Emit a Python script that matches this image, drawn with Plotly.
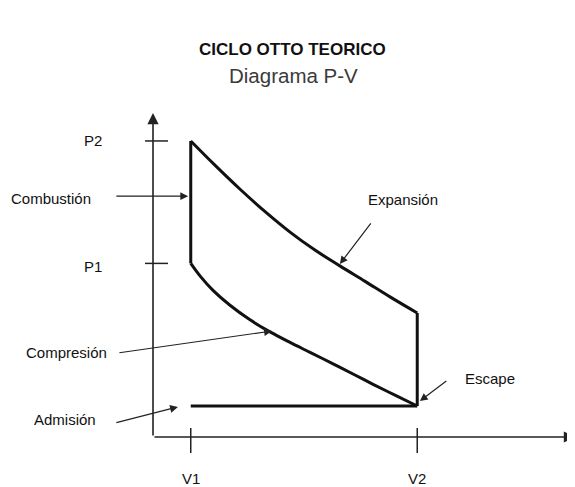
import plotly.graph_objects as go

# Otto cycle, P-V diagram (V1 = 1, V2 = 7, atmospheric pressure = 1)
V1, V2 = 1.0, 7.0
P_ATM = 1.0
P1, P2 = 5.6, 9.55

# compression, from V2 back to V1
V_COMP = [7.0, 6.41, 5.83, 5.35, 4.77, 4.16, 3.63, 3.10, 2.57, 2.04, 1.59, 1.25, 1.0]
P_COMP = [1.0, 1.35, 1.70, 2.0, 2.36, 2.73, 3.05, 3.39, 3.78, 4.25, 4.73, 5.19, 5.6]

# expansion, from V1 to V2
V_EXP = [1.0, 1.64, 2.30, 2.97, 3.63, 4.29, 4.95, 5.62, 6.28, 7.0]
P_EXP = [9.55, 8.77, 8.0, 7.27, 6.61, 6.03, 5.52, 5.02, 4.52, 4.0]

V_TICKS = [V1, V2]
V_LABELS = ["V1", "V2"]
P_TICKS = [P1, P2]
P_LABELS = ["P1", "P2"]

FONT = "Liberation Sans, Arial, sans-serif"
INK = "#111111"
AXIS = "#222222"

fig = go.Figure()
# straight strokes: admision, combustion, escape
fig.add_trace(go.Scatter(x=[V1, V2, None, V1, V1, None, V2, V2],
                         y=[P_ATM, P_ATM, None, P1, P2, None, P_EXP[-1], P_ATM],
                         mode="lines", line=dict(color=INK, width=3), hoverinfo="skip"))
# curved strokes: compresion, expansion
fig.add_trace(go.Scatter(x=V_COMP, y=P_COMP, mode="lines",
                         line=dict(color=INK, width=3, shape="spline", smoothing=1),
                         hoverinfo="skip"))
fig.add_trace(go.Scatter(x=V_EXP, y=P_EXP, mode="lines",
                         line=dict(color=INK, width=3, shape="spline", smoothing=1),
                         hoverinfo="skip"))

annotations = []

# axes drawn as arrows from the origin
annotations.append(dict(x=11.179, y=0, ax=0, ay=0, xref="x", yref="y", axref="x", ayref="y",
                        text="", showarrow=True, arrowhead=2, arrowsize=1.4,
                        arrowwidth=1.6, arrowcolor=AXIS))
annotations.append(dict(x=0, y=10.45, ax=0, ay=0, xref="x", yref="y", axref="x", ayref="y",
                        text="", showarrow=True, arrowhead=2, arrowsize=1.4,
                        arrowwidth=1.6, arrowcolor=AXIS))

shapes = []
for v in V_TICKS:
    shapes.append(dict(type="line", xref="x", yref="y", x0=v, x1=v,
                       ysizemode="pixel", yanchor=0, y0=-16, y1=9,
                       line=dict(color=AXIS, width=1.5)))
for p in P_TICKS:
    shapes.append(dict(type="line", xref="x", yref="y", y0=p, y1=p,
                       xsizemode="pixel", xanchor=0, x0=-8, x1=15,
                       line=dict(color=AXIS, width=1.5)))

for v, lab in zip(V_TICKS, V_LABELS):
    annotations.append(dict(x=v, y=-1.35, xref="x", yref="y", text=lab, showarrow=False,
                            font=dict(family=FONT, size=15, color=INK)))
annotations.append(dict(x=-1.60, y=5.50, xref="x", yref="y", text=P_LABELS[0],
                        showarrow=False, font=dict(family=FONT, size=15, color=INK)))
annotations.append(dict(x=-1.60, y=9.55, xref="x", yref="y", text=P_LABELS[1],
                        showarrow=False, font=dict(family=FONT, size=15, color=INK)))

# process labels: (text, text pos, arrow tail, arrow head)
labels = [
    ("Combustión", (-2.70, 7.70), (-1.01, 7.77), (0.93, 7.77)),
    ("Expansión", (6.62, 7.65), (5.80, 6.94), (4.95, 5.58)),
    ("Compresión", (-2.28, 2.71), (-0.93, 2.71), (3.15, 3.42)),
    ("Escape", (8.93, 1.90), (7.81, 1.84), (7.07, 1.16)),
    ("Admisión", (-2.33, 0.55), (-1.01, 0.45), (0.66, 0.97)),
]
for text, pos, tail, head in labels:
    annotations.append(dict(x=pos[0], y=pos[1], xref="x", yref="y", text=text,
                            showarrow=False, font=dict(family=FONT, size=15, color=INK)))
    annotations.append(dict(x=head[0], y=head[1], ax=tail[0], ay=tail[1],
                            xref="x", yref="y", axref="x", ayref="y", text="",
                            showarrow=True, arrowhead=2, arrowsize=1.3,
                            arrowwidth=1.2, arrowcolor=AXIS))

# titles (page has an 8px body margin, figure is sized to fit the window)
annotations.append(dict(x=0.502, y=1 - 30 / 479, xref="paper", yref="paper",
                        text="<b>CICLO OTTO TEORICO</b>", showarrow=False,
                        font=dict(family=FONT, size=17, color=INK)))
annotations.append(dict(x=0.503, y=1 - 54 / 479, xref="paper", yref="paper",
                        text="Diagrama P-V", showarrow=False,
                        font=dict(family=FONT, size=20.5, color="#3a3a3a")))

fig.update_layout(
    width=567, height=479,
    margin=dict(l=0, r=0, t=0, b=0),
    paper_bgcolor="white", plot_bgcolor="white",
    showlegend=False,
    xaxis=dict(range=[-3.841, 11.179], visible=False, fixedrange=True),
    yaxis=dict(range=[-1.613, 13.839], visible=False, fixedrange=True),
    annotations=annotations,
    shapes=shapes,
)

fig.write_html("out.html")
